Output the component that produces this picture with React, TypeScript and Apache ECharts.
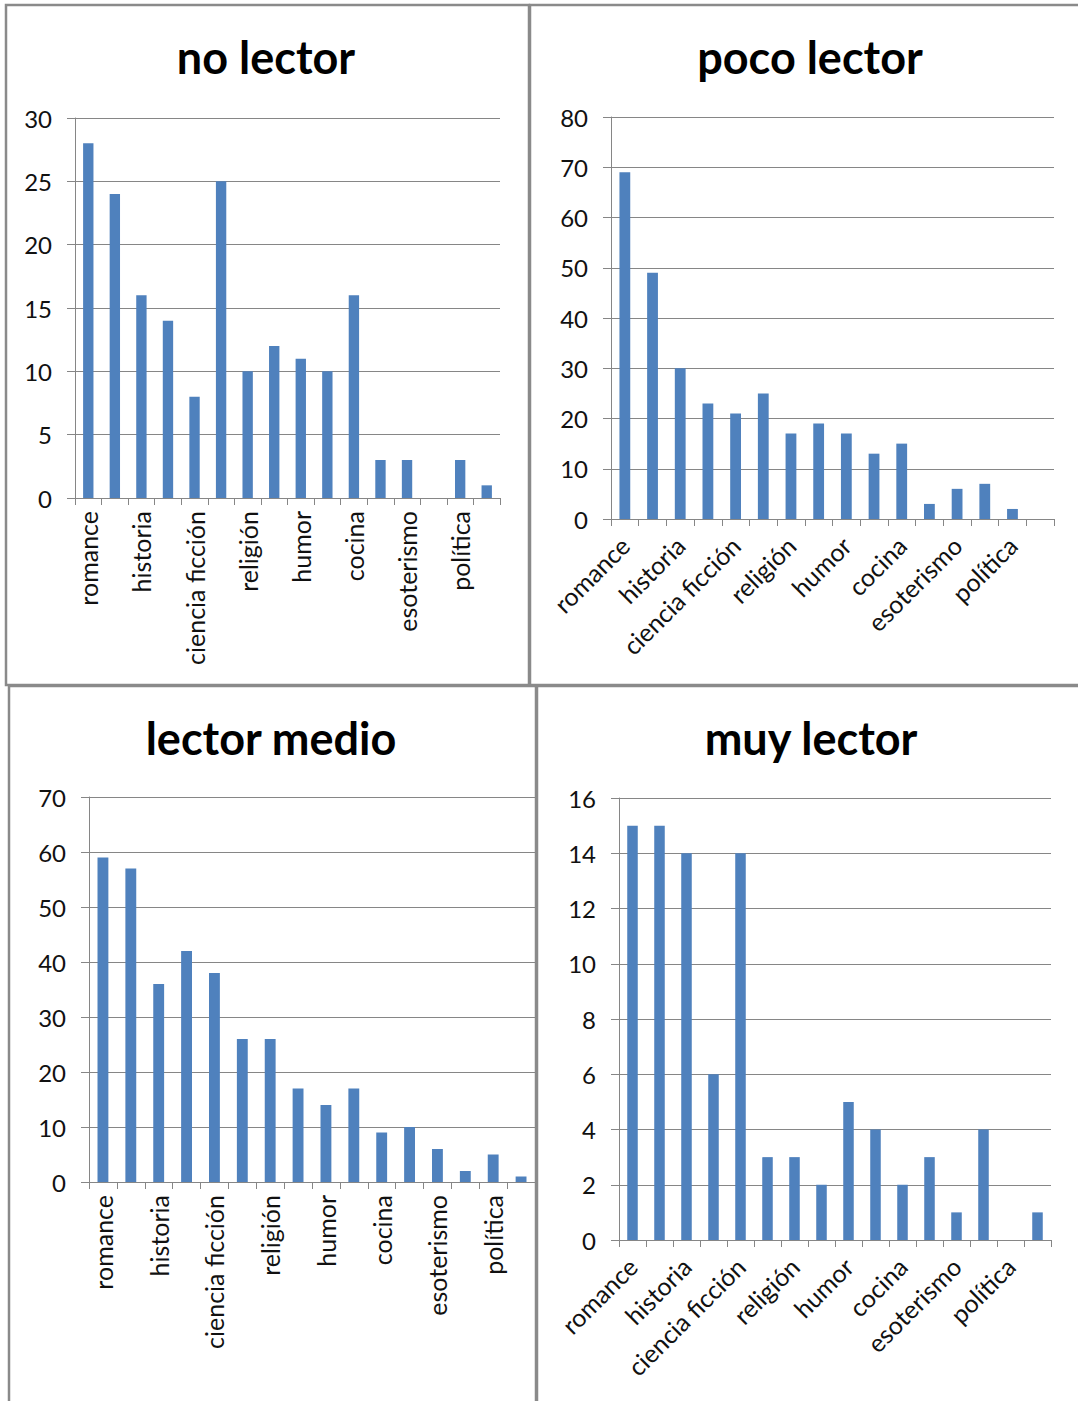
import React, { useEffect, useRef } from "react";
import * as echarts from "echarts";

const categories = [
  "romance", "aventura", "historia", "policiaca", "ciencia ficción", "terror",
  "religión", "poesía", "humor", "biografía", "cocina", "autoayuda",
  "esoterismo", "viajes", "política", "deportes",
];
const noLector = [28, 24, 16, 14, 8, 25, 10, 12, 11, 10, 16, 3, 3, 0, 3, 1];
const pocoLector = [69, 49, 30, 23, 21, 25, 17, 19, 17, 13, 15, 3, 6, 7, 2, 0];
const lectorMedio = [59, 57, 36, 42, 38, 26, 26, 17, 14, 17, 9, 10, 6, 2, 5, 1];
const muyLector = [15, 15, 14, 6, 14, 3, 3, 2, 5, 4, 2, 3, 1, 4, 0, 1];
const titles = ["no lector", "poco lector", "lector medio", "muy lector"];
const yMax = [30, 80, 70, 16];
const yStep = [5, 10, 10, 2];
const labelRotate = [90, 45, 90, 45];

const FONT = "Lato, 'Open Sans', sans-serif";
const GRID_COLOR = "#868686";
const BAR_COLOR = "#4f81bd";

export default function App() {
  const ref = useRef<HTMLDivElement>(null);
  useEffect(() => {
    if (!ref.current) return;
    const chart = echarts.init(ref.current, undefined, { renderer: "svg" });
    const seriesData = [noLector, pocoLector, lectorMedio, muyLector];
    const grids = [
      { left: 75, top: 118, width: 425, height: 380 },
      { left: 611, top: 117, width: 443, height: 402 },
      { left: 89, top: 797, width: 446, height: 385 },
      { left: 619, top: 798, width: 432, height: 442 },
    ];
    const panels = [
      { x: 6, y: 5, w: 523, h: 680 },
      { x: 530, y: 5, w: 560, h: 680 },
      { x: 9, y: 686, w: 527, h: 730 },
      { x: 537, y: 686, w: 560, h: 730 },
    ];
    const titlePos = [
      { x: 266, y: 57 },
      { x: 810, y: 57 },
      { x: 271, y: 738 },
      { x: 811, y: 738 },
    ];
    const option: any = {
      animation: false,
      backgroundColor: "#ffffff",
      grid: grids.map((g) => ({ ...g, containLabel: false })),
      xAxis: grids.map((_, i) => ({
        type: "category",
        gridIndex: i,
        data: categories,
        boundaryGap: true,
        axisLine: { show: true, lineStyle: { color: GRID_COLOR, width: 1 } },
        axisTick: { show: true, interval: 0, length: 7, lineStyle: { color: GRID_COLOR } },
        axisLabel: {
          interval: 1,
          rotate: labelRotate[i],
          margin: labelRotate[i] === 90 ? 13 : 22,
          fontFamily: FONT,
          fontSize: 25,
          color: "#111",
        },
        splitLine: { show: false },
      })),
      yAxis: grids.map((_, i) => ({
        type: "value",
        gridIndex: i,
        min: 0,
        max: yMax[i],
        interval: yStep[i],
        axisLine: { show: true, lineStyle: { color: GRID_COLOR, width: 1 } },
        axisTick: { show: true, length: 8, lineStyle: { color: GRID_COLOR } },
        axisLabel: {
          margin: 23,
          fontFamily: FONT,
          fontSize: 24,
          color: "#111",
        },
        splitLine: { show: true, lineStyle: { color: GRID_COLOR, width: 1 } },
      })),
      series: seriesData.map((d, i) => ({
        type: "bar",
        name: titles[i],
        xAxisIndex: i,
        yAxisIndex: i,
        data: d,
        barWidth: "39%",
        itemStyle: { color: BAR_COLOR },
      })),
      graphic: [
        ...panels.map((p) => ({
          type: "rect",
          shape: { x: p.x, y: p.y, width: p.w, height: p.h },
          style: { fill: "none", stroke: "#8a8a8a", lineWidth: 2.5 },
          z: 100,
          silent: true,
        })),
        ...titlePos.map((t, i) => ({
          type: "text",
          x: t.x,
          y: t.y,
          style: {
            text: titles[i],
            fontFamily: FONT,
            fontWeight: "bold",
            fontSize: 45,
            fill: "#000",
            textAlign: "center",
            textVerticalAlign: "middle",
          },
        })),
      ],
    };
    chart.setOption(option);
    return () => chart.dispose();
  }, []);
  return (
    <div
      ref={ref}
      style={{ position: "absolute", left: 0, top: 0, width: 1078, height: 1401 }}
    />
  );
}
